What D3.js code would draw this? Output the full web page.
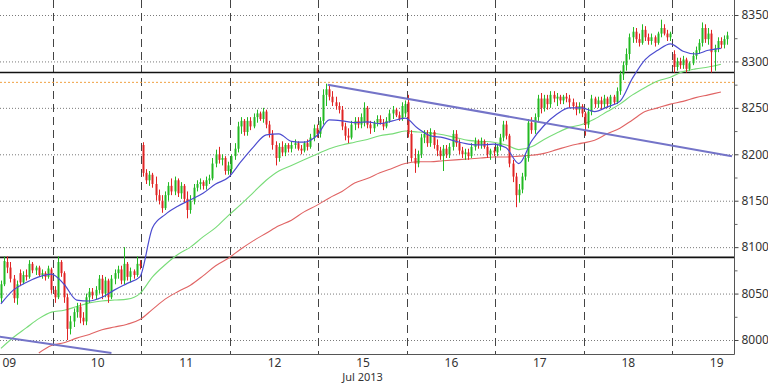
<!DOCTYPE html>
<html>
<head>
<meta charset="utf-8">
<script src="https://cdn.jsdelivr.net/npm/d3@7"></script>
<style>
body { margin: 0; background: #fff; }
svg { display: block; font-family: "Noto Sans", "DejaVu Sans", sans-serif; }
</style>
</head>
<body>
<div id="chart"></div>
<script>
var width = 768, height = 384;
var plotRight = 734, plotBottom = 354;

// trading days shown, 28 half-hour slots per day
var days = ["09", "10", "11", "12", "15", "16", "17", "18", "19"];
var slotsPerDay = 28;
var firstSlot = [11, 0, 0, 0, 0, 0, 0, 0, 0];

// candles: [open, high, low, close]
var day09 = [[8045,8064,8040,8060],[8060,8090,8058,8085],[8084,8090,8072,8078],[8078,8084,8062,8066],[8066,8070,8040,8045],
  [8045,8064,8038,8060],[8072,8076,8058,8062],[8062,8074,8060,8070],[8070,8076,8064,8068],[8068,8086,8066,8082],
  [8082,8084,8072,8075],[8075,8080,8070,8078],[8078,8080,8068,8070],[8070,8076,8066,8072],[8072,8074,8064,8068],
  [8068,8080,8066,8077],[8076,8078,8050,8054]];
var day10 = [[8054,8058,8040,8046],[8046,8090,8044,8084],[8084,8086,8068,8072],[8072,8074,8040,8046],[8046,8050,8000,8012],
  [8012,8026,8006,8020],[8020,8034,8014,8030],[8030,8040,8024,8036],[8036,8040,8018,8024],[8024,8030,8016,8020],
  [8020,8050,8016,8046],[8046,8056,8040,8052],[8052,8056,8044,8048],[8048,8058,8044,8054],[8054,8070,8050,8066],
  [8066,8070,8044,8050],[8050,8068,8046,8064],[8064,8066,8040,8046],[8046,8070,8044,8066],[8066,8076,8060,8072],
  [8072,8080,8066,8076],[8076,8080,8060,8064],[8064,8100,8060,8082],[8082,8084,8064,8068],[8068,8078,8062,8074],
  [8074,8076,8066,8070],[8070,8090,8068,8082],[8082,8086,8076,8080]];
var day11 = [[8210,8213,8176,8180],[8180,8184,8168,8172],[8172,8182,8166,8178],[8178,8180,8164,8168],[8168,8176,8150,8156],
  [8156,8162,8146,8150],[8150,8156,8137,8142],[8142,8160,8140,8156],[8156,8170,8150,8166],[8166,8174,8156,8160],
  [8160,8176,8156,8172],[8172,8174,8154,8158],[8158,8170,8152,8166],[8166,8168,8148,8152],[8152,8160,8131,8140],
  [8140,8156,8136,8150],[8150,8168,8146,8164],[8164,8172,8160,8168],[8168,8174,8162,8170],[8170,8172,8162,8166],
  [8166,8176,8162,8172],[8172,8178,8168,8174],[8174,8196,8172,8190],[8190,8205,8186,8200],[8200,8208,8190,8194],
  [8194,8200,8188,8196],[8196,8198,8178,8182],[8182,8192,8178,8188]];
var day12 = [[8184,8200,8180,8198],[8198,8212,8194,8206],[8206,8235,8202,8230],[8230,8240,8222,8236],[8236,8238,8220,8224],
  [8224,8240,8220,8236],[8236,8240,8226,8230],[8230,8244,8228,8240],[8240,8248,8234,8244],[8244,8246,8236,8238],
  [8238,8250,8234,8246],[8246,8248,8228,8232],[8232,8236,8218,8222],[8222,8226,8205,8210],[8210,8214,8188,8196],
  [8196,8212,8192,8208],[8208,8214,8198,8202],[8202,8212,8198,8210],[8210,8212,8202,8206],[8206,8214,8202,8210],
  [8210,8216,8206,8212],[8212,8214,8204,8206],[8206,8210,8200,8204],[8204,8214,8202,8212],[8212,8216,8204,8208],
  [8208,8222,8206,8218],[8218,8232,8214,8228],[8228,8232,8218,8222]];
var day15 = [[8222,8240,8218,8236],[8236,8270,8232,8264],[8264,8276,8252,8270],[8270,8274,8258,8262],[8262,8268,8252,8256],
  [8256,8262,8248,8252],[8252,8256,8244,8248],[8248,8252,8226,8230],[8230,8234,8215,8220],[8220,8228,8212,8218],
  [8218,8236,8216,8232],[8232,8240,8226,8236],[8236,8240,8228,8232],[8232,8244,8228,8240],[8234,8256,8230,8250],
  [8250,8252,8228,8232],[8232,8236,8222,8228],[8228,8236,8224,8234],[8234,8242,8230,8238],[8238,8242,8232,8234],
  [8234,8238,8226,8230],[8230,8240,8228,8236],[8236,8248,8234,8244],[8244,8252,8238,8248],[8248,8250,8240,8242],
  [8242,8246,8236,8238],[8238,8256,8236,8252],[8244,8258,8240,8254]];
var day16 = [[8256,8264,8218,8222],[8222,8226,8192,8196],[8196,8206,8180,8190],[8190,8204,8186,8200],[8200,8222,8196,8218],
  [8218,8226,8212,8222],[8222,8226,8208,8212],[8212,8228,8208,8224],[8224,8226,8206,8210],[8210,8216,8198,8204],
  [8204,8208,8194,8198],[8198,8210,8182,8206],[8206,8210,8196,8200],[8200,8212,8196,8208],[8208,8226,8204,8222],
  [8222,8226,8208,8212],[8212,8216,8200,8204],[8204,8208,8196,8200],[8200,8206,8194,8202],[8202,8206,8194,8198],
  [8198,8212,8196,8208],[8208,8218,8204,8214],[8214,8216,8206,8210],[8210,8218,8206,8214],[8214,8216,8206,8208],
  [8208,8212,8196,8200],[8200,8206,8194,8204],[8204,8208,8198,8202]];
var day17 = [[8202,8210,8198,8208],[8208,8222,8204,8218],[8218,8236,8214,8232],[8232,8236,8216,8220],[8220,8222,8186,8190],
  [8190,8194,8170,8176],[8176,8180,8143,8156],[8156,8168,8148,8162],[8162,8180,8158,8176],[8176,8200,8172,8196],
  [8196,8238,8192,8234],[8234,8240,8222,8226],[8226,8244,8222,8240],[8240,8264,8236,8260],[8260,8266,8244,8250],
  [8250,8264,8246,8260],[8260,8264,8248,8254],[8254,8268,8250,8264],[8264,8268,8256,8260],[8260,8266,8252,8262],
  [8262,8264,8254,8258],[8258,8264,8254,8262],[8262,8266,8256,8260],[8260,8264,8250,8256],[8256,8260,8248,8252],
  [8252,8256,8242,8248],[8248,8256,8244,8252],[8252,8254,8240,8244]];
var day18 = [[8244,8246,8220,8232],[8232,8250,8228,8246],[8246,8264,8242,8260],[8260,8262,8250,8254],[8254,8262,8250,8258],
  [8258,8262,8248,8254],[8254,8264,8250,8260],[8260,8262,8250,8254],[8254,8264,8250,8262],[8262,8264,8254,8256],
  [8256,8272,8254,8268],[8268,8290,8264,8286],[8286,8300,8280,8296],[8296,8314,8290,8308],[8308,8330,8302,8326],
  [8326,8337,8320,8332],[8332,8336,8320,8324],[8324,8330,8316,8320],[8320,8340,8318,8334],[8334,8338,8322,8326],
  [8326,8330,8318,8322],[8322,8330,8318,8326],[8326,8328,8316,8320],[8320,8332,8318,8330],[8330,8345,8326,8336],
  [8336,8340,8328,8330],[8330,8334,8322,8326],[8326,8332,8322,8330]];
var day19 = [[8308,8312,8288,8294],[8294,8304,8290,8300],[8300,8304,8292,8296],[8296,8306,8292,8302],[8302,8304,8288,8292],
  [8292,8300,8290,8298],[8298,8310,8296,8306],[8306,8316,8302,8312],[8312,8324,8308,8320],[8320,8342,8316,8336],
  [8336,8340,8320,8324],[8324,8336,8318,8330],[8330,8334,8288,8310],[8310,8318,8290,8314],[8314,8326,8310,8322],
  [8322,8326,8314,8318],[8318,8328,8314,8324],[8324,8332,8318,8328]];
var dayCandles = [day09, day10, day11, day12, day15, day16, day17, day18, day19];

// moving averages, one value every 4 slots
var maStep = 4;
var maFastStart = 11;
var maFast = [8039,8054,8062,8068,8071,8060,8043,8042,8046,8054,8061,8068,8121,8135,8144,8151,8158,8168,8175,8192,
  8208,8221,8222,8214,8213,8220,8237,8236,8234,8235,8233,8236,8239,8228,8220,8218,8214,8211,8210,8211,
  8207,8190,8214,8231,8243,8250,8250,8246,8251,8257,8282,8302,8312,8319,8311,8308,8312,8314];
var maMidStart = 11;
var maMid = [7991,8003,8013,8023,8030,8032,8036,8040,8042,8043,8044,8050,8068,8081,8092,8100,8111,8121,8134,8146,
  8159,8172,8182,8188,8194,8200,8206,8210,8213,8216,8220,8222,8225,8224,8223,8221,8218,8215,8214,8213,
  8210,8205,8208,8216,8223,8229,8232,8238,8246,8254,8264,8272,8279,8283,8289,8292,8294,8297];
var maSlowStart = 23;
var maSlow = [7986,7994,7997,8002,8006,8011,8014,8017,8022,8033,8044,8052,8059,8069,8080,8088,8098,8107,8115,8123,
  8129,8138,8145,8153,8160,8169,8174,8180,8185,8190,8192,8192,8193,8194,8195,8196,8197,8197,8198,8199,
  8201,8205,8209,8212,8215,8222,8228,8237,8246,8250,8254,8257,8261,8264,8267];

var priceTicks = [8000, 8050, 8100, 8150, 8200, 8250, 8300, 8350];
var minorTicks = [8025, 8075, 8125, 8175, 8225, 8275, 8325];
var blackLevels = [8288, 8089];
var orangeLevels = [8278];
// trend lines as [slot, price] pairs
var trendLines = [[[115, 8275], [243, 8198]], [[0, 8009], [46.5, 7986]]];

var x = d3.scaleLinear().domain([0, days.length * slotsPerDay]).range([-35.4, 760.4]);
var y = d3.scaleLinear().domain([8000, 8350]).range([340, 15]);

var candles = [];
dayCandles.forEach(function(list, d) {
  list.forEach(function(c, k) {
    candles.push({slot: d * slotsPerDay + firstSlot[d] + k, o: c[0], h: c[1], l: c[2], c: c[3]});
  });
});

var svg = d3.select("#chart").append("svg")
  .attr("width", width)
  .attr("height", height);

svg.append("defs").append("clipPath").attr("id", "plot")
  .append("rect").attr("x", 0).attr("y", 0).attr("width", plotRight).attr("height", plotBottom);

var plot = svg.append("g").attr("clip-path", "url(#plot)");

// horizontal dotted grid
plot.selectAll(".hgrid").data(priceTicks).enter().append("line")
  .attr("x1", 0).attr("x2", plotRight)
  .attr("y1", function(d) { return y(d) + 0.5; })
  .attr("y2", function(d) { return y(d) + 0.5; })
  .attr("stroke", "#7a7a7a").attr("stroke-dasharray", "1,2");

// day separators
var bounds = d3.range(1, days.length);
plot.selectAll(".vgrid").data(bounds).enter().append("line")
  .attr("x1", function(d) { return Math.round(x(d * slotsPerDay)) + 0.5; })
  .attr("x2", function(d) { return Math.round(x(d * slotsPerDay)) + 0.5; })
  .attr("y1", 0).attr("y2", plotBottom)
  .attr("stroke", "#444").attr("stroke-dasharray", "8,5");

// levels
plot.selectAll(".orange").data(orangeLevels).enter().append("line")
  .attr("x1", 0).attr("x2", plotRight)
  .attr("y1", function(d) { return y(d) + 0.5; })
  .attr("y2", function(d) { return y(d) + 0.5; })
  .attr("stroke", "#f0a040").attr("stroke-dasharray", "2,2");

plot.selectAll(".black").data(blackLevels).enter().append("line")
  .attr("x1", 0).attr("x2", plotRight)
  .attr("y1", function(d) { return y(d); })
  .attr("y2", function(d) { return y(d); })
  .attr("stroke", "#111").attr("stroke-width", 1.6);

// moving averages
function maLine(values, start) {
  return values.map(function(v, i) { return [start + i * maStep, v]; });
}
var line = d3.line()
  .x(function(d) { return x(d[0] + 0.5); })
  .y(function(d) { return y(d[1]); })
  .curve(d3.curveMonotoneX);

plot.append("path").datum(maLine(maSlow, maSlowStart))
  .attr("d", line).attr("fill", "none").attr("stroke", "#e06464").attr("stroke-width", 1.1);
plot.append("path").datum(maLine(maMid, maMidStart))
  .attr("d", line).attr("fill", "none").attr("stroke", "#78dc78").attr("stroke-width", 1.1);

// candles
var cg = plot.selectAll(".candle").data(candles).enter().append("g");
cg.append("line")
  .attr("x1", function(d) { return Math.round(x(d.slot + 0.5)) + 0.5; })
  .attr("x2", function(d) { return Math.round(x(d.slot + 0.5)) + 0.5; })
  .attr("y1", function(d) { return y(d.h); })
  .attr("y2", function(d) { return y(d.l); })
  .attr("stroke", function(d) { return d.c >= d.o ? "#22b922" : "#e02424"; });
cg.append("rect")
  .attr("x", function(d) { return Math.round(x(d.slot + 0.5)) - 0.5; })
  .attr("width", 2)
  .attr("y", function(d) { return y(Math.max(d.o, d.c)); })
  .attr("height", function(d) { return Math.max(1, Math.abs(y(d.o) - y(d.c))); })
  .attr("fill", function(d) { return d.c >= d.o ? "#22b922" : "#e02424"; });

plot.append("path").datum(maLine(maFast, maFastStart))
  .attr("d", line).attr("fill", "none").attr("stroke", "#4b4bcf").attr("stroke-width", 1.2);

// trend lines
plot.selectAll(".trend").data(trendLines).enter().append("line")
  .attr("x1", function(d) { return x(d[0][0]); })
  .attr("y1", function(d) { return y(d[0][1]); })
  .attr("x2", function(d) { return x(d[1][0]); })
  .attr("y2", function(d) { return y(d[1][1]); })
  .attr("stroke", "#7474c8").attr("stroke-width", 2);

// axes
svg.append("line").attr("x1", plotRight + 0.5).attr("x2", plotRight + 0.5)
  .attr("y1", 0).attr("y2", plotBottom + 0.5).attr("stroke", "#555");
svg.append("line").attr("x1", 0).attr("x2", plotRight + 0.5)
  .attr("y1", plotBottom + 0.5).attr("y2", plotBottom + 0.5).attr("stroke", "#555");

var yAxis = svg.append("g").attr("transform", "translate(" + (plotRight + 0.5) + ",0)")
  .call(d3.axisRight(y).tickValues(priceTicks).tickSize(4).tickPadding(3).tickFormat(d3.format("d")));
yAxis.select(".domain").remove();
yAxis.selectAll("text").attr("font-size", 12).attr("fill", "#333").style("font-family", "Noto Sans, sans-serif");
yAxis.selectAll("line").attr("stroke", "#444");

var yMinor = svg.append("g").attr("transform", "translate(" + (plotRight + 0.5) + ",0)")
  .call(d3.axisRight(y).tickValues(minorTicks).tickSize(3).tickFormat(""));
yMinor.select(".domain").remove();
yMinor.selectAll("line").attr("stroke", "#666");

var dayCenters = days.map(function(d, i) { return i * slotsPerDay + slotsPerDay / 2; });
var xAxis = svg.append("g").attr("transform", "translate(0," + plotBottom + ")")
  .call(d3.axisBottom(x).tickValues(dayCenters).tickSize(0).tickPadding(4)
    .tickFormat(function(d, i) { return days[i]; }));
xAxis.select(".domain").remove();
xAxis.selectAll("text").attr("font-size", 12).attr("fill", "#333").style("font-family", "Noto Sans, sans-serif");

svg.append("text")
  .attr("x", x(4 * slotsPerDay + slotsPerDay / 2))
  .attr("y", 381)
  .attr("text-anchor", "middle")
  .attr("font-size", 11)
  .attr("fill", "#333")
  .text("Jul 2013");
</script>
</body>
</html>
